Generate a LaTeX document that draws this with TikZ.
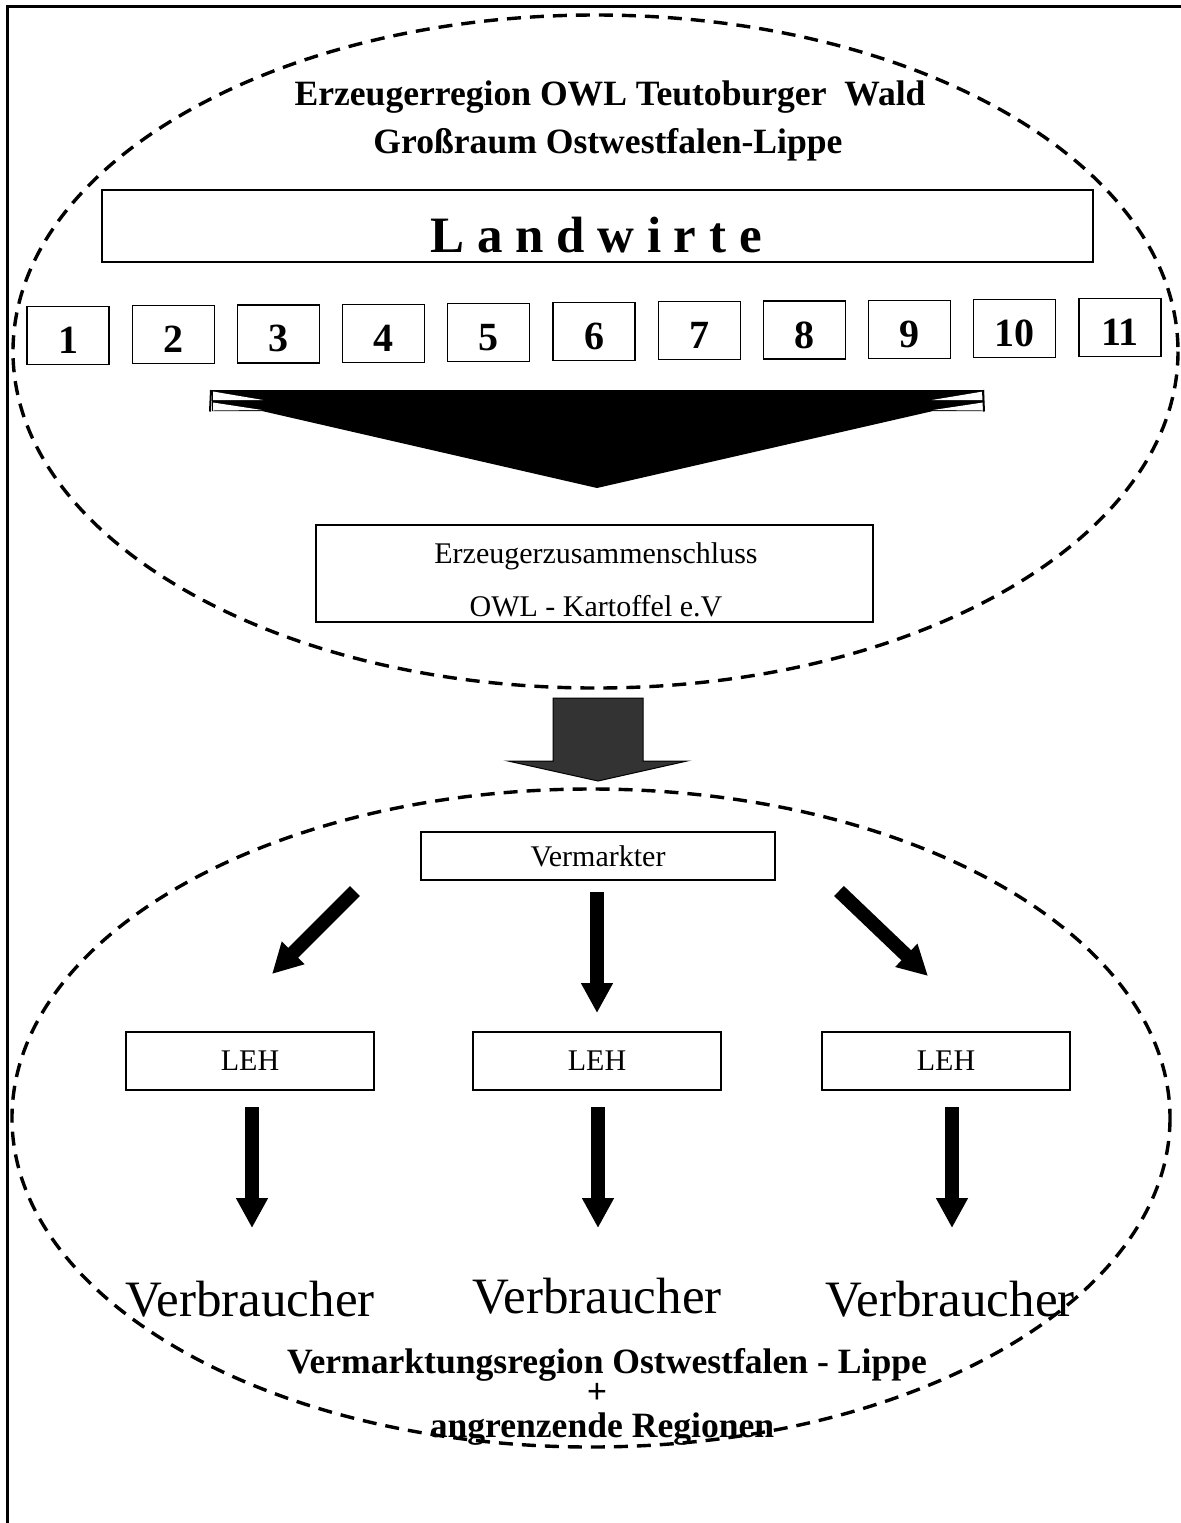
\documentclass[tikz,border=0pt]{standalone}
\usepackage{fontspec}
\setmainfont{Liberation Serif}
\usetikzlibrary{arrows.meta}
\begin{document}
\begin{tikzpicture}[x=0.5pt,y=-0.5pt,
  region/.style={draw, line width=1.7pt, dash pattern=on 7pt off 4.5pt},
  numbox/.style={draw, line width=0.6pt, minimum width=41pt, minimum height=29pt, inner sep=0pt},
  numtext/.style={inner sep=0pt, font=\fontsize{20}{24}\selectfont\bfseries},
  plainbox/.style={draw, line width=0.6pt, inner sep=0pt},
  boxtext/.style={inner sep=0pt, anchor=base, font=\fontsize{15}{18}\selectfont},
  bigbold/.style={inner sep=0pt, anchor=base, font=\fontsize{17.8}{21}\selectfont\bfseries},
  consumer/.style={inner sep=0pt, anchor=base, font=\fontsize{25.5}{30}\selectfont},
  blockarrow/.style={line width=7pt, -{Triangle[width=15pt,length=15pt]}}
]
\useasboundingbox (0,0) rectangle (1181,1523);
% frame
\draw[line width=1.5pt] (7,1530) -- (7,6) -- (1190,6);

% regions
\draw[region] (595.5,351.5) ellipse [x radius=582.5, y radius=336.5];
\draw[region] (591,1118) ellipse [x radius=579, y radius=329];

% titles
\node[bigbold] (t1) at (610,105) {Erzeugerregion OWL Teutoburger\ \ Wald};
\node[bigbold] (t2) at (608,153) {Großraum Ostwestfalen-Lippe};

% Landwirte
\node[plainbox, minimum width=495.5pt, minimum height=36pt] (lw) at (597.5,226) {};
\node[inner sep=0pt, anchor=base, font=\fontsize{25.5}{30}\selectfont\bfseries] (lwt) at (596,252) {L a n d w i r t e};

% numbered boxes
\foreach \i in {1,...,11}{
  \pgfmathsetmacro{\cx}{68+105.2*(\i-1)}
  \pgfmathsetmacro{\cy}{335.5-0.8*(\i-1)}
  \node[numbox] (n\i) at (\cx,\cy) {};
  \node[numtext] at ([yshift=-2.5pt]n\i.center) {\i};
}

% big collecting chevron
\fill (212,390) -- (984,390) -- (984,411) -- (933,411) -- (597,488) -- (262,411) -- (212,411) -- cycle;
\fill[white] (213,391.5) -- (263,400) -- (213,400) -- cycle;
\fill[white] (213,402.5) -- (262,410) -- (213,410.5) -- cycle;
\fill[white] (983,391.5) -- (932,400) -- (983,400) -- cycle;
\fill[white] (983,402.5) -- (933,410) -- (983,410.5) -- cycle;
\draw[line width=1pt] (211,390) -- (210,411.5);
\draw[line width=1pt] (983,390) -- (984,411.5);

% Erzeugerzusammenschluss
\node[plainbox, minimum width=278.5pt, minimum height=48.5pt] (ez) at (594.5,573.5) {};
\node[boxtext] (ez1) at (596,563) {Erzeugerzusammenschluss};
\node[boxtext] (ez2) at (596,616) {OWL - Kartoffel e.V};

% dark transfer arrow
\filldraw[fill=black!80, draw=black, line width=0.5pt] (553,698) -- (643,698) -- (643,761) -- (687,761) -- (598,781) -- (508,761) -- (553,761) -- cycle;

% Vermarkter
\node[plainbox, minimum width=177pt, minimum height=24pt, font=\fontsize{15}{18}\selectfont] (vm) at (598,856) {Vermarkter};

% LEH boxes
\node[plainbox, minimum width=124pt, minimum height=29pt, font=\fontsize{15}{18}\selectfont] (leh1) at (250,1061) {LEH};
\node[plainbox, minimum width=124pt, minimum height=29pt, font=\fontsize{15}{18}\selectfont] (leh2) at (597,1061) {LEH};
\node[plainbox, minimum width=124pt, minimum height=29pt, font=\fontsize{15}{18}\selectfont] (leh3) at (946,1061) {LEH};

% distribution arrows
\coordinate (a1s) at (355,891);
\coordinate (a1e) at (272,974);
\coordinate (a2s) at (597,892);
\coordinate (a2e) at (597,1013);
\coordinate (a3s) at (839,891);
\coordinate (a3e) at (928,976);
\draw[blockarrow] (a1s) -- (a1e);
\draw[blockarrow] (a2s) -- (a2e);
\draw[blockarrow] (a3s) -- (a3e);

% LEH to consumers
\coordinate (b1s) at (252,1107);
\coordinate (b1e) at (252,1228);
\coordinate (b2s) at (598,1107);
\coordinate (b2e) at (598,1228);
\coordinate (b3s) at (952,1107);
\coordinate (b3e) at (952,1228);
\draw[blockarrow] (b1s) -- (b1e);
\draw[blockarrow] (b2s) -- (b2e);
\draw[blockarrow] (b3s) -- (b3e);

% consumers
\node[consumer] (v1) at (250,1316) {Verbraucher};
\node[consumer] (v2) at (597,1313) {Verbraucher};
\node[consumer] (v3) at (950,1316) {Verbraucher};

% bottom titles
\node[bigbold] (r1) at (607,1373) {Vermarktungsregion Ostwestfalen - Lippe};
\node[bigbold] (r2) at (597,1403) {+};
\node[bigbold] (r3) at (602,1437) {angrenzende Regionen};
\end{tikzpicture}
\end{document}
